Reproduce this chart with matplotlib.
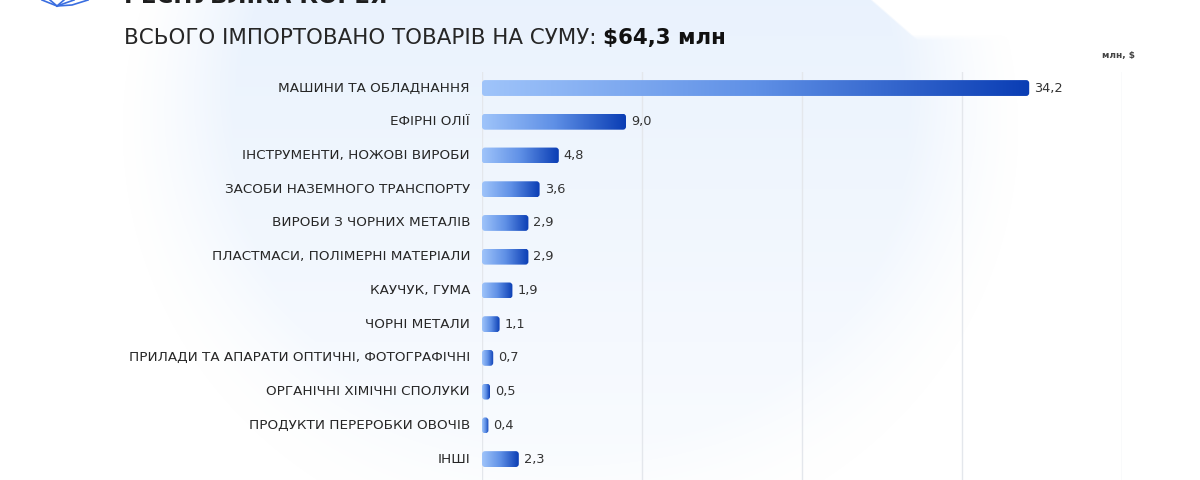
import numpy as np
import matplotlib.pyplot as plt
from matplotlib.patches import FancyBboxPatch
from matplotlib.colors import LinearSegmentedColormap

CATEGORIES = [
    'МАШИНИ ТА ОБЛАДНАННЯ',
    'ЕФІРНІ ОЛІЇ',
    'ІНСТРУМЕНТИ, НОЖОВІ ВИРОБИ',
    'ЗАСОБИ НАЗЕМНОГО ТРАНСПОРТУ',
    'ВИРОБИ З ЧОРНИХ МЕТАЛІВ',
    'ПЛАСТМАСИ, ПОЛІМЕРНІ МАТЕРІАЛИ',
    'КАУЧУК, ГУМА',
    'ЧОРНІ МЕТАЛИ',
    'ПРИЛАДИ ТА АПАРАТИ ОПТИЧНІ, ФОТОГРАФІЧНІ',
    'ОРГАНІЧНІ ХІМІЧНІ СПОЛУКИ',
    'ПРОДУКТИ ПЕРЕРОБКИ ОВОЧІВ',
    'ІНШІ',
]
VALUES = [34.2, 9.0, 4.8, 3.6, 2.9, 2.9, 1.9, 1.1, 0.7, 0.5, 0.4, 2.3]
GRID_TICKS = [0, 10, 20, 30, 40]

TITLE = 'РЕСПУБЛІКА КОРЕЯ'
SUBTITLE = 'ВСЬОГО ІМПОРТОВАНО ТОВАРІВ НА СУМУ: '
TOTAL = '$64,3 млн'
UNIT = 'млн, $'

plt.rcParams['font.family'] = ['DejaVu Sans']

W, H = 1200, 480
fig = plt.figure(figsize=(12, 4.8), dpi=100)
fig.patch.set_facecolor('white')

# soft light-blue glow in the background
bg = fig.add_axes([0, 0, 1, 1], zorder=-2)
yy, xx = np.mgrid[0:H, 0:W].astype(float)
d = np.sqrt(((xx - 570) / 450.0) ** 2 + ((yy - 130) / 430.0) ** 2)
mask = np.clip((1.0 - d) / 0.25, 0, 1)
mask = mask ** 1.3 * np.clip(1.0 - yy / 650.0, 0, 1)
edge = (xx - yy * 1.15 - 870)
cut = np.clip(edge / 3.0, 0, 1) * np.clip((40 - yy) / 6.0, 0, 1)
mask *= 1.0 - cut
img = np.zeros((H, W, 4))
img[..., 0] = 0xe6 / 255
img[..., 1] = 0xf0 / 255
img[..., 2] = 0xfd / 255
img[..., 3] = mask * 0.85
bg.imshow(img, extent=[0, W, H, 0], aspect='auto', interpolation='bilinear')
bg.set_xlim(0, W)
bg.set_ylim(H, 0)
bg.axis('off')

# decorative icon, cut at the top edge
for x_top in [42, 50, 64, 74]:
    bg.plot([x_top, 57], [0, 6], color='#3a6ee0', lw=1.2)
bg.plot([57, 72, 88], [6, 5, 0], color='#3a6ee0', lw=1.2)

ax = fig.add_axes([482 / W, 0, 640 / W, 408 / H])
ax.set_facecolor('none')

n = len(CATEGORIES)
ax.set_xlim(GRID_TICKS[0], GRID_TICKS[-1])
ax.set_ylim(n - 1 + 0.62, -0.475)

for t in GRID_TICKS:
    ax.axvline(t, color='#e4e7ec', lw=1, zorder=0)

cmap = LinearSegmentedColormap.from_list('bar', ['#9fc4fa', '#5f90e6', '#0a3db4'])
grad = np.linspace(0, 1, 256).reshape(1, -1)

bar_h = 0.47
px_x = 640 / (GRID_TICKS[-1] - GRID_TICKS[0])
px_y = 408 / (n - 1 + 0.62 + 0.475)
for i, (cat, v) in enumerate(zip(CATEGORIES, VALUES)):
    y0 = i - bar_h / 2
    patch = FancyBboxPatch((0, y0), v, bar_h,
                           boxstyle='round,pad=0,rounding_size=%f' % min(3.0 / px_x, v / 2),
                           mutation_aspect=px_x / px_y,
                           facecolor='none', edgecolor='none', zorder=2)
    ax.add_patch(patch)
    im = ax.imshow(grad, extent=[0, v, y0 + bar_h, y0], cmap=cmap,
                   aspect='auto', zorder=2, interpolation='bilinear')
    im.set_clip_path(patch)
    ax.text(v + 5 / px_x, i, ('%.1f' % v).replace('.', ','), va='center', ha='left',
            fontsize=9.3, color='#333333', zorder=3)
    ax.text(-12 / px_x, i, cat, va='center', ha='right', fontsize=9.7,
            color='#262626', clip_on=False)

ax.set_xlim(GRID_TICKS[0], GRID_TICKS[-1])
ax.set_ylim(n - 1 + 0.62, -0.475)
ax.set_xticks([])
ax.set_yticks([])
for s in ax.spines.values():
    s.set_visible(False)

fig.text(124 / W, 1 - 3 / H, TITLE, fontsize=16.5, fontweight='bold', color='#1e1e1e',
         ha='left', va='baseline')
sub = fig.text(124 / W, 1 - 44 / H, SUBTITLE, fontsize=15.4, fontweight='normal',
               color='#262626', ha='left', va='baseline')
fig.canvas.draw()
bb = sub.get_window_extent()
fig.text(bb.x1 / W, 1 - 44 / H, TOTAL, fontsize=15.4, fontweight='bold',
         color='#111111', ha='left', va='baseline')
fig.text(1135 / W, 1 - 58 / H, UNIT, fontsize=6.5, fontweight='bold', color='#444444',
         ha='right', va='baseline')

fig.savefig('out.png', dpi=100, facecolor='white')
